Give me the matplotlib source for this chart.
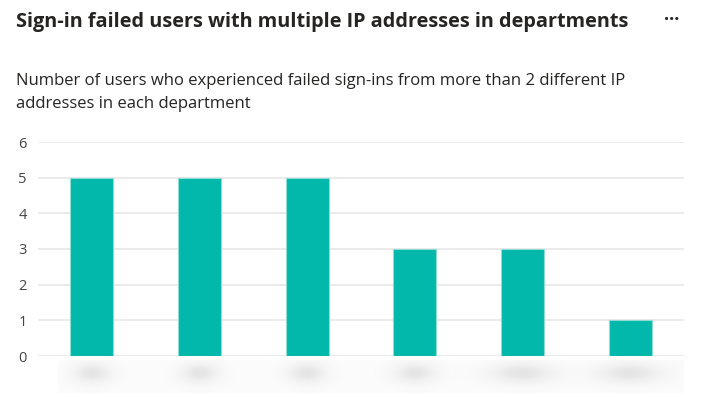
import numpy as np
import matplotlib.pyplot as plt

# Data
departments = ["Dept 1", "Dept 2", "Dept 3", "Dept 4", "Dept 5", "Dept 6"]
users = [5, 5, 5, 3, 3, 1]
yticks = [0, 1, 2, 3, 4, 5, 6]

title = "Sign-in failed users with multiple IP addresses in departments"
subtitle = ("Number of users who experienced failed sign-ins from more than 2 different IP\n"
            "addresses in each department")

plt.rcParams['font.family'] = ['Open Sans', 'DejaVu Sans']

W, H = 701, 397
fig = plt.figure(figsize=(W / 100, H / 100), dpi=100)

# plot area in pixels: x 38..684, y 142 (6) .. 356 (0)
x0, x1, ytop, ybot = 38, 684, 142, 356
ax = fig.add_axes([x0 / W, 1 - ybot / H, (x1 - x0) / W, (ybot - ytop) / H])

x = np.arange(len(departments))
ax.bar(x, users, width=0.4, color='#01B8AA', edgecolor='#8fdcd4', linewidth=0.8, zorder=3)
ax.set_xlim(-0.5, len(departments) - 0.5)
ax.set_ylim(0, 6)
ax.set_yticks(yticks)
ax.yaxis.grid(True, color='#e9e9e9', linewidth=1.3, zorder=0)
ax.tick_params(axis='y', length=0, labelsize=10.5, labelcolor='#444444', pad=8)
ax.set_xticks([])
for s in ax.spines.values():
    s.set_visible(False)

# blurred (redacted) category labels
lab = fig.add_axes([58 / W, 1 - 393 / H, (x1 - 58) / W, 33 / H])
xs = np.linspace(58, x1, 600)
ys = np.linspace(0, 33, 60)
XX, YY = np.meshgrid(xs, ys)
img = np.zeros_like(XX) + 0.03
centers = x0 + (x + 0.5) * (x1 - x0) / len(departments)
widths = [20, 20, 20, 22, 34, 34]
for c, w in zip(centers, widths):
    img += 0.16 * np.exp(-((XX - c) / w) ** 2 - ((YY - 13) / 11) ** 2)
lab.imshow(img, cmap='Greys', vmin=0, vmax=1, aspect='auto',
           extent=[58, x1, 0, 33], interpolation='bilinear')
lab.axis('off')

fig.text(16 / W, 1 - 22 / H, title, fontsize=14.3, fontweight='bold',
         color='#252423', va='center', ha='left')
fig.text(672 / W, 1 - 20 / H, "···", fontsize=13, fontweight='bold',
         color='#252423', va='center', ha='center')
fig.text(16 / W, 1 - 73 / H, subtitle, fontsize=12, color='#252423',
         va='top', ha='left', linespacing=1.55)

fig.savefig("out.png", dpi=100)
